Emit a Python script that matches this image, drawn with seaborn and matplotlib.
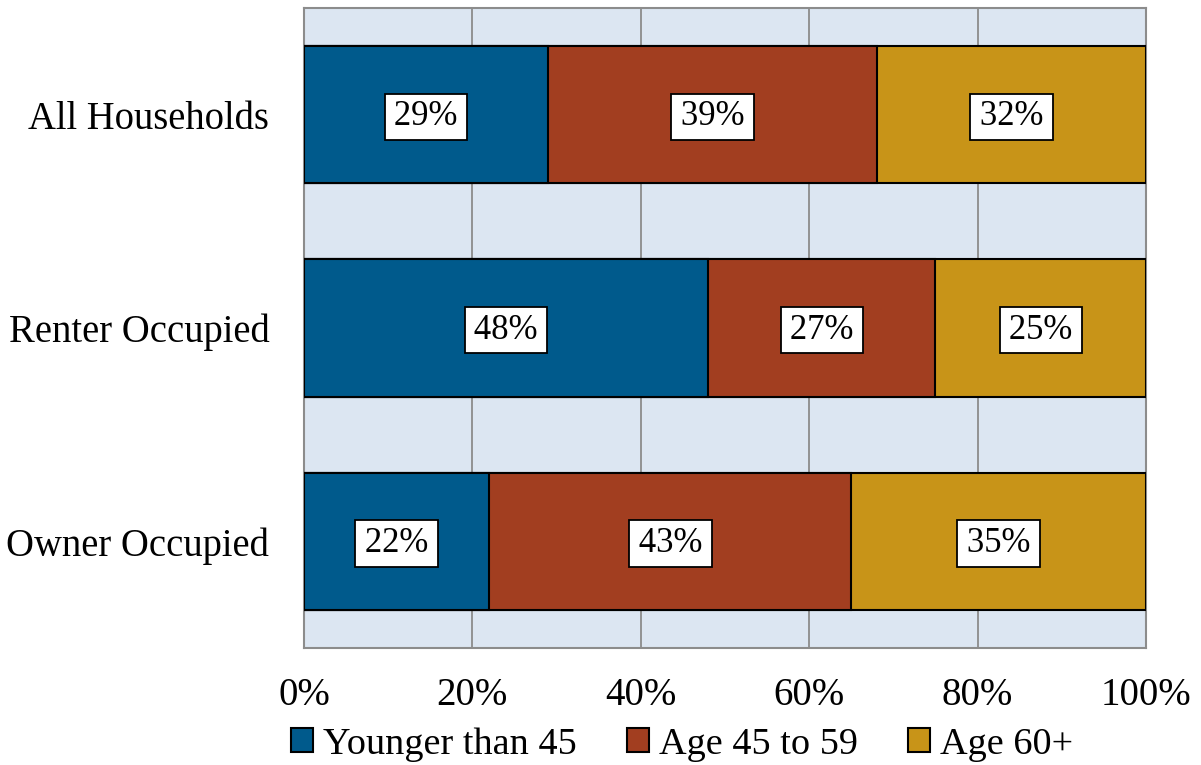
import matplotlib
matplotlib.use("Agg")
import matplotlib.pyplot as plt
from matplotlib.patches import Patch
import numpy as np
import pandas as pd
import seaborn as sns

categories = ["All Households", "Renter Occupied", "Owner Occupied"]
series_names = ["Younger than 45", "Age 45 to 59", "Age 60+"]
younger = [29, 48, 22]
middle = [39, 27, 43]
older = [32, 25, 35]
tick_labels = ["0%", "20%", "40%", "60%", "80%", "100%"]
colors = ["#005a8c", "#a23e20", "#c89418"]

sns.set_theme(style="white")
plt.rcParams["font.family"] = ["Liberation Serif", "DejaVu Serif"]
plt.rcParams["text.color"] = "black"

values = np.array([younger, middle, older], dtype=float)
cumulative = np.cumsum(values, axis=0)

fig = plt.figure(figsize=(12.01, 7.65), dpi=100)
ax = fig.add_axes([0.2531, 0.1529, 0.7011, 0.8366])
ax.set_facecolor("#dce6f2")

# Stacked bars: draw the running totals from the widest to the narrowest
for i in reversed(range(len(series_names))):
    df = pd.DataFrame({"category": categories, "total": cumulative[i]})
    sns.barplot(data=df, x="total", y="category", orient="h", color=colors[i],
                saturation=1, width=0.643, edgecolor="black", linewidth=1.5,
                ax=ax, zorder=3)

# Value labels in white boxes at the middle of each segment
for i in range(len(series_names)):
    for j in range(len(categories)):
        center = cumulative[i, j] - values[i, j] / 2
        ax.text(center, j + 0.01, f"\u200a{values[i, j]:.0f}%\u200a", ha="center",
                va="center", fontsize=25, color="black", zorder=5,
                bbox=dict(boxstyle="square,pad=0.19", facecolor="white",
                          edgecolor="black", linewidth=1.3))

ax.set_xlim(0, 100)
ax.set_ylim(2.5, -0.5)
ax.set_xticks([0, 20, 40, 60, 80, 100])
ax.set_xticklabels(tick_labels)
ax.set_xlabel("")
ax.set_ylabel("")
ax.tick_params(axis="x", length=0, pad=21, labelsize=28, colors="black")
ax.tick_params(axis="y", length=0, pad=25, labelsize=27.8, colors="black")

ax.xaxis.grid(True, color="#8c8c8c", linewidth=1.3, zorder=1)
ax.yaxis.grid(False)
ax.set_axisbelow(True)
for side in ["top", "bottom", "left", "right"]:
    ax.spines[side].set_visible(True)
    ax.spines[side].set_color("#8c8c8c")
    ax.spines[side].set_linewidth(1.5)

handles = [Patch(facecolor=c, edgecolor="black", linewidth=1.5) for c in colors]
fig.legend(handles, series_names, loc="center", bbox_to_anchor=(0.568, 0.027),
           ncol=3, frameon=False, fontsize=27.5, labelcolor="black",
           handlelength=0.58, handleheight=0.58, handletextpad=0.27,
           columnspacing=1.3, borderpad=0.1)

fig.savefig("out.png", dpi=100)
